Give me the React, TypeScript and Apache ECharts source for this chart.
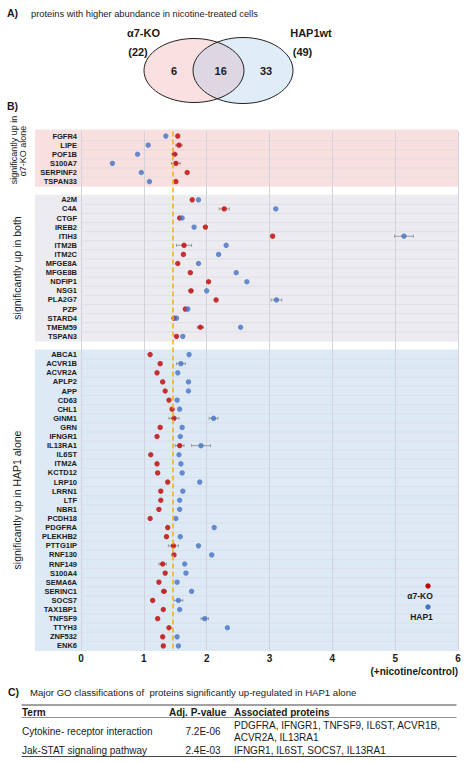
import React, { useEffect, useRef } from "react";
import * as echarts from "echarts";

const FONT = "'Liberation Sans', Arial, Helvetica, sans-serif";

// ---------- Data ----------
const koOnlyGenes = ["FGFR4", "LIPE", "POF1B", "S100A7", "SERPINF2", "TSPAN33"];
const koOnlyKO = [1.54, 1.56, 1.49, 1.51, 1.69, 1.51];
const koOnlyHAP = [1.35, 1.07, 0.9, 0.5, 0.96, 1.09];

const bothGenes = ["A2M", "C4A", "CTGF", "IREB2", "ITIH3", "ITM2B", "ITM2C", "MFGE8A", "MFGE8B", "NDFIP1", "NSG1", "PLA2G7", "PZP", "STARD4", "TMEM59", "TSPAN3"];
const bothKO = [1.77, 2.28, 1.57, 1.98, 3.05, 1.64, 1.63, 1.54, 1.74, 2.03, 1.75, 2.15, 1.66, 1.48, 1.9, 1.52];
const bothHAP = [1.87, 3.1, 1.61, 1.8, 5.14, 2.31, 2.19, 1.87, 2.47, 2.64, 2.0, 3.11, 1.7, 1.52, 2.54, 1.62];

const hapOnlyGenes = ["ABCA1", "ACVR1B", "ACVR2A", "APLP2", "APP", "CD63", "CHL1", "GINM1", "GRN", "IFNGR1", "IL13RA1", "IL6ST", "ITM2A", "KCTD12", "LRP10", "LRRN1", "LTF", "NBR1", "PCDH18", "PDGFRA", "PLEKHB2", "PTTG1IP", "RNF130", "RNF149", "S100A4", "SEMA6A", "SERINC1", "SOCS7", "TAX1BP1", "TNFSF9", "TTYH3", "ZNF532", "ENK6"];
const hapOnlyKO = [1.1, 1.26, 1.21, 1.3, 1.34, 1.4, 1.45, 1.48, 1.26, 1.21, 1.57, 1.11, 1.21, 1.22, 1.38, 1.27, 1.27, 1.24, 1.1, 1.38, 1.36, 1.47, 1.48, 1.3, 1.34, 1.24, 1.32, 1.14, 1.31, 1.22, 1.4, 1.3, 1.31];
const hapOnlyHAP = [1.72, 1.59, 1.54, 1.71, 1.71, 1.53, 1.57, 2.11, 1.61, 1.58, 1.91, 1.56, 1.59, 1.61, 1.89, 1.62, 1.57, 1.57, 1.51, 2.12, 1.58, 1.87, 2.08, 1.65, 1.67, 1.53, 1.76, 1.55, 1.57, 1.97, 2.33, 1.53, 1.55];

const koErrors: [string, number][] = [
  ["LIPE", 0.05], ["POF1B", 0.04], ["S100A7", 0.07], ["C4A", 0.08], ["ITM2B", 0.12],
  ["NSG1", 0.03], ["TMEM59", 0.05], ["GINM1", 0.08], ["IL13RA1", 0.07], ["PTTG1IP", 0.08],
  ["RNF149", 0.06], ["SERINC1", 0.04],
];
const hapErrors: [string, number][] = [
  ["ITIH3", 0.15], ["PLA2G7", 0.085], ["ACVR1B", 0.07], ["GINM1", 0.07], ["IL13RA1", 0.15],
  ["SOCS7", 0.07], ["TNFSF9", 0.06],
];

const threshold = 1.46;
const xTicks = [0, 1, 2, 3, 4, 5, 6];

const vennLeftLabel = "α7-KO";
const vennLeftTotal = "(22)";
const vennRightLabel = "HAP1wt";
const vennRightTotal = "(49)";
const vennCounts = ["6", "16", "33"];

const tableHeader = ["Term", "Adj. P-value", "Associated proteins"];
const tableTerms = ["Cytokine- receptor interaction", "Jak-STAT signaling pathway"];
const tablePValues = ["7.2E-06", "2.4E-03"];
const tableProteins = [
  ["PDGFRA, IFNGR1, TNFSF9, IL6ST, ACVR1B,", "ACVR2A, IL13RA1"],
  ["IFNGR1, IL6ST, SOCS7, IL13RA1"],
];

// ---------- Derived ----------
const categories = [...koOnlyGenes, "", ...bothGenes, " ", ...hapOnlyGenes];
const koAll = [...koOnlyKO, ...bothKO, ...hapOnlyKO];
const hapAll = [...koOnlyHAP, ...bothHAP, ...hapOnlyHAP];
const genesAll = [...koOnlyGenes, ...bothGenes, ...hapOnlyGenes];
const koMap: Record<string, number> = {};
const hapMap: Record<string, number> = {};
genesAll.forEach((g, i) => { koMap[g] = koAll[i]; hapMap[g] = hapAll[i]; });

const n1 = koOnlyGenes.length, n2 = bothGenes.length, n3 = hapOnlyGenes.length;
const sections = [
  [0, n1 - 1, 0],
  [n1 + 1, n1 + n2, 1],
  [n1 + n2 + 2, n1 + n2 + 1 + n3, 2],
];
const bandColors = ["#f8dfe0", "#ecebf0", "#dde9f5"];

const RED = "#c00000";
const BLUE = "#4472c4";

function txt(text: string, x: number, y: number, size: number, opts: any = {}) {
  return {
    type: "text",
    x,
    y,
    rotation: opts.rotation || 0,
    z: 10,
    style: {
      text,
      x: 0,
      y: 0,
      fill: opts.fill || "#1a1a1a",
      fontSize: size,
      fontWeight: opts.bold ? "bold" : "normal",
      fontFamily: FONT,
      align: opts.align || "left",
      verticalAlign: "middle",
    },
  };
}

function hline(x1: number, x2: number, y: number, w: number, c = "#444") {
  return { type: "line", z: 10, shape: { x1, y1: y, x2, y2: y }, style: { stroke: c, lineWidth: w } };
}

function buildOption(): any {
  const graphic: any[] = [];
  // Panel A
  graphic.push(txt("A)", 7, 13, 10.5, { bold: true }));
  graphic.push(txt("proteins with higher abundance in nicotine-treated cells", 31, 14, 9.3));
  graphic.push({ type: "ellipse", z: 5, shape: { cx: 194, cy: 70.5, rx: 50, ry: 32 }, style: { fill: "rgba(238,160,160,0.32)", stroke: "none" } });
  graphic.push({ type: "ellipse", z: 6, shape: { cx: 243, cy: 70.5, rx: 50, ry: 33 }, style: { fill: "rgba(160,196,232,0.32)", stroke: "none" } });
  graphic.push({ type: "ellipse", z: 7, shape: { cx: 194, cy: 70.5, rx: 50, ry: 32 }, style: { fill: "none", stroke: "#222", lineWidth: 1 } });
  graphic.push({ type: "ellipse", z: 7, shape: { cx: 243, cy: 70.5, rx: 50, ry: 33 }, style: { fill: "none", stroke: "#222", lineWidth: 1 } });
  graphic.push(txt(vennLeftLabel, 143.5, 33, 11, { bold: true, align: "center" }));
  graphic.push(txt(vennLeftTotal, 138, 52, 11, { bold: true, align: "center" }));
  graphic.push(txt(vennRightLabel, 311, 33, 11, { bold: true, align: "center" }));
  graphic.push(txt(vennRightTotal, 302.5, 52, 11, { bold: true, align: "center" }));
  graphic.push(txt(vennCounts[0], 174, 71, 11, { bold: true, align: "center" }));
  graphic.push(txt(vennCounts[1], 220.7, 71, 11, { bold: true, align: "center" }));
  graphic.push(txt(vennCounts[2], 266, 71, 11, { bold: true, align: "center" }));

  // Panel B labels
  graphic.push(txt("B)", 7, 106, 10.5, { bold: true }));
  graphic.push(txt("significantly up in", 13.5, 150, 9, { align: "center", rotation: Math.PI / 2 }));
  graphic.push(txt("α7-KO alone", 23, 151, 9, { align: "center", rotation: Math.PI / 2 }));
  graphic.push(txt("significantly up in both", 17, 268, 10.5, { align: "center", rotation: Math.PI / 2 }));
  graphic.push(txt("significantly up in HAP1 alone", 17, 500, 10.5, { align: "center", rotation: Math.PI / 2 }));
  graphic.push(txt("(+nicotine/control)", 458, 671, 10, { bold: true, align: "right" }));

  // legend
  graphic.push({ type: "circle", z: 10, shape: { cx: 428, cy: 586, r: 2.7 }, style: { fill: RED } });
  graphic.push(txt("α7-KO", 420, 596, 8.5, { bold: true, align: "center" }));
  graphic.push({ type: "circle", z: 10, shape: { cx: 428, cy: 607, r: 2.7 }, style: { fill: BLUE } });
  graphic.push(txt("HAP1", 421.5, 616.5, 8.5, { bold: true, align: "center" }));

  // Panel C
  graphic.push(txt("C)", 8, 692, 10.5, { bold: true }));
  graphic.push(txt("Major GO classifications of  proteins significantly up-regulated in HAP1 alone", 30, 692, 9.6));
  graphic.push(hline(21.5, 456.5, 705, 1));
  graphic.push(txt(tableHeader[0], 22, 712, 10, { bold: true }));
  graphic.push(txt(tableHeader[1], 169, 712, 10, { bold: true }));
  graphic.push(txt(tableHeader[2], 234, 712, 10, { bold: true }));
  graphic.push(hline(21.5, 456.5, 717.5, 0.6));
  graphic.push(txt(tableTerms[0], 22, 731.5, 10));
  graphic.push(txt(tablePValues[0], 203, 731.5, 10, { align: "center" }));
  graphic.push(txt(tableProteins[0][0], 234, 725, 10));
  graphic.push(txt(tableProteins[0][1], 234, 737.3, 10));
  graphic.push(txt(tableTerms[1], 22, 750, 10));
  graphic.push(txt(tablePValues[1], 203, 750, 10, { align: "center" }));
  graphic.push(txt(tableProteins[1][0], 234, 750, 10));
  graphic.push(hline(21.5, 456.5, 756.5, 1));

  const errRender = (color: string) => (params: any, api: any) => {
    const v = api.value(0);
    const y = api.value(1);
    const e = api.value(2);
    const p1 = api.coord([v - e, y]);
    const p2 = api.coord([v + e, y]);
    const st = { stroke: color, lineWidth: 0.8 };
    return {
      type: "group",
      children: [
        { type: "line", shape: { x1: p1[0], y1: p1[1], x2: p2[0], y2: p2[1] }, style: st },
        { type: "line", shape: { x1: p1[0], y1: p1[1] - 1.5, x2: p1[0], y2: p1[1] + 1.5 }, style: st },
        { type: "line", shape: { x1: p2[0], y1: p2[1] - 1.5, x2: p2[0], y2: p2[1] + 1.5 }, style: st },
      ],
    };
  };

  return {
    animation: false,
    backgroundColor: "#ffffff",
    textStyle: { fontFamily: FONT },
    grid: { left: 81, top: 131.5, width: 377, height: 519 },
    xAxis: {
      type: "value",
      min: xTicks[0],
      max: xTicks[xTicks.length - 1],
      interval: 1,
      axisLine: { show: false },
      axisTick: { show: false },
      axisLabel: { fontSize: 10, fontWeight: "bold", color: "#1a1a1a", margin: 3, fontFamily: FONT },
      splitLine: { show: true, lineStyle: { color: "#d2d2da", width: 1 } },
    },
    yAxis: {
      type: "category",
      data: categories,
      inverse: true,
      axisLine: { show: true, lineStyle: { color: "#d2d2da", width: 1 } },
      axisTick: { show: false },
      axisLabel: { interval: 0, fontSize: 7.5, fontWeight: "bold", color: "#1a1a1a", margin: 4, fontFamily: FONT },
      splitLine: { show: false },
    },
    graphic,
    series: [
      {
        type: "custom",
        name: "bands",
        z: -5,
        silent: true,
        clip: false,
        renderItem: (params: any, api: any) => {
          const s = api.value(0);
          const e = api.value(1);
          const ci = api.value(2);
          const h = api.size([0, 1])[1];
          const p0 = api.coord([xTicks[0], s]);
          const p1 = api.coord([xTicks[xTicks.length - 1], e]);
          const top = p0[1] - h / 2 - (ci === 0 ? 2 : 0.5);
          const bottom = p1[1] + h / 2 + 0.5;
          const children: any[] = [
            { type: "rect", shape: { x: 35, y: top, width: p1[0] - 35, height: bottom - top }, style: { fill: bandColors[ci] } },
          ];
          for (let i = s; i < e; i++) {
            const y = api.coord([0, i])[1] + h / 2;
            children.push({ type: "line", shape: { x1: p0[0], y1: y, x2: p1[0], y2: y }, style: { stroke: "#d9d9e0", lineWidth: 0.6 } });
          }
          return { type: "group", children };
        },
        data: sections,
      },
      {
        type: "custom",
        name: "koErr",
        z: 2,
        silent: true,
        renderItem: errRender("#8a8a8a"),
        data: koErrors.map(([g, e]) => [koMap[g], g, e]),
      },
      {
        type: "custom",
        name: "hapErr",
        z: 2,
        silent: true,
        renderItem: errRender("#8a8a8a"),
        data: hapErrors.map(([g, e]) => [hapMap[g], g, e]),
      },
      {
        type: "scatter",
        name: "α7-KO",
        z: 3,
        symbol: "circle",
        symbolSize: 5.4,
        itemStyle: { color: RED },
        data: genesAll.map((g) => [koMap[g], g]),
        markLine: {
          silent: true,
          symbol: ["none", "none"],
          label: { show: false },
          lineStyle: { color: "#f2b705", type: [5, 3], width: 1.6 },
          data: [{ xAxis: threshold }],
        },
      },
      {
        type: "scatter",
        name: "HAP1",
        z: 4,
        symbol: "circle",
        symbolSize: 5.4,
        itemStyle: { color: BLUE },
        data: genesAll.map((g) => [hapMap[g], g]),
      },
    ],
  };
}

export default function App() {
  const ref = useRef<HTMLDivElement>(null);
  useEffect(() => {
    const el = ref.current;
    if (!el) return;
    const chart = echarts.init(el, null, { renderer: "svg" });
    chart.setOption(buildOption());
    return () => chart.dispose();
  }, []);
  return (
    <div
      ref={ref}
      style={{ position: "fixed", left: 0, top: 0, width: 465, height: 762, background: "#fff" }}
    />
  );
}
